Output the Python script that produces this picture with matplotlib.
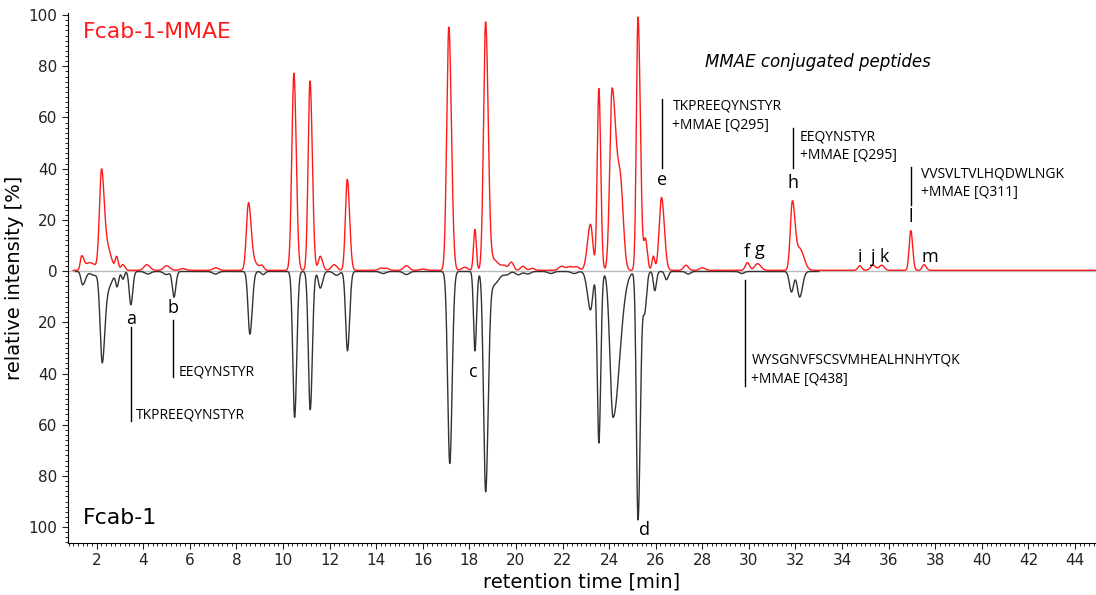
import numpy as np
import matplotlib
matplotlib.use("Agg")
import matplotlib.pyplot as plt
from matplotlib.ticker import MultipleLocator, FuncFormatter

# peak tables: retention time [min], height [%], left / right width [min]
mmae_rt = [1.36, 1.7, 2.21, 2.45, 2.86, 3.12, 4.15, 5.0, 5.7, 7.12, 8.52, 8.75, 9.1,
           10.47, 11.16, 11.6, 12.2, 12.76, 14.2, 14.45, 15.3, 16.0, 17.12, 17.8,
           18.24, 18.7, 19.05, 19.5, 19.8, 20.3, 20.7, 21.96, 22.3, 22.6,
           23.2, 23.56, 24.13, 24.5, 25.24, 25.56, 25.9, 26.25, 27.3, 28.0,
           29.94, 30.37, 31.87, 32.2, 34.76, 35.33, 35.7, 36.95, 37.52]
mmae_height = [5.5, 3, 38, 9, 5, 2.3, 2.2, 1.8, 0.7, 1.0, 26, 3, 1.6,
               77, 74, 5.5, 2.2, 35.5, 0.9, 0.8, 1.8, 0.5, 95, 1.2,
               16, 97, 4, 1.5, 3.2, 1.6, 0.8, 1.6, 1.4, 1.4,
               18, 71, 71, 28, 99, 12, 5.5, 28.5, 2, 1,
               3, 2.6, 27, 8, 1.8, 2.0, 2.0, 15.5, 2.2]
mmae_wl = [0.06, 0.15, 0.09, 0.12, 0.06, 0.07, 0.12, 0.12, 0.12, 0.12, 0.09, 0.12, 0.08,
           0.09, 0.08, 0.08, 0.12, 0.08, 0.1, 0.1, 0.12, 0.12, 0.09, 0.12,
           0.06, 0.09, 0.12, 0.1, 0.1, 0.1, 0.1, 0.12, 0.12, 0.12,
           0.13, 0.07, 0.1, 0.12, 0.07, 0.07, 0.06, 0.1, 0.1, 0.12,
           0.09, 0.12, 0.09, 0.12, 0.08, 0.11, 0.11, 0.07, 0.08]
mmae_wr = [0.1, 0.25, 0.11, 0.17, 0.07, 0.09, 0.14, 0.14, 0.12, 0.12, 0.11, 0.18, 0.08,
           0.1, 0.1, 0.1, 0.12, 0.1, 0.1, 0.1, 0.12, 0.12, 0.11, 0.12,
           0.06, 0.11, 0.22, 0.1, 0.1, 0.1, 0.1, 0.12, 0.12, 0.12,
           0.1, 0.08, 0.18, 0.12, 0.1, 0.08, 0.06, 0.12, 0.1, 0.12,
           0.09, 0.14, 0.12, 0.17, 0.08, 0.11, 0.11, 0.08, 0.09]

fcab_rt = [1.4, 1.9, 2.24, 2.5, 2.88, 3.13, 3.47, 4.2, 5.0, 5.32, 7.1, 8.58, 9.15,
           10.5, 11.17, 11.6, 12.3, 12.77, 14.3, 15.3, 17.16, 18.24, 18.7, 19.05,
           19.6, 20.1, 20.5, 21.5, 22.5, 23.2, 23.56, 24.17, 25.24, 25.53, 25.96,
           26.46, 27.4, 29.7, 31.83, 32.18]
fcab_height = [5.2, 1.5, 35, 6, 5.5, 3, 13, 1.0, 1.2, 10, 1, 24.5, 1.2,
               57, 54, 6.5, 1.5, 31, 0.8, 1.2, 75, 31, 86, 5,
               1.2, 1.3, 1, 0.8, 0.8, 15, 67, 57, 97, 15, 7.5,
               3.2, 1.0, 0.8, 8, 10]
fcab_wl = [0.07, 0.15, 0.09, 0.12, 0.06, 0.06, 0.07, 0.12, 0.12, 0.07, 0.12, 0.08, 0.08,
           0.08, 0.08, 0.08, 0.12, 0.08, 0.12, 0.12, 0.09, 0.06, 0.09, 0.12,
           0.12, 0.12, 0.12, 0.12, 0.12, 0.13, 0.07, 0.13, 0.07, 0.07, 0.06,
           0.07, 0.1, 0.1, 0.09, 0.1]
fcab_wr = [0.12, 0.15, 0.11, 0.17, 0.07, 0.06, 0.08, 0.12, 0.12, 0.08, 0.12, 0.1, 0.08,
           0.09, 0.09, 0.1, 0.12, 0.09, 0.12, 0.12, 0.1, 0.07, 0.11, 0.22,
           0.12, 0.12, 0.12, 0.12, 0.12, 0.1, 0.08, 0.28, 0.1, 0.08, 0.07,
           0.08, 0.1, 0.1, 0.09, 0.12]

peak_letters_top = ["e", "f", "g", "h", "i", "j", "k", "l", "m"]
peak_letters_bottom = ["a", "b", "c", "d"]


def trace(t, rt, height, wl, wr):
    """Sum of asymmetric gaussian peaks."""
    y = np.zeros_like(t)
    for c, h, a, b in zip(rt, height, wl, wr):
        s = np.where(t < c, a, b)
        y += h * np.exp(-0.5 * ((t - c) / s) ** 2)
    return y


t_red = np.linspace(1.0, 44.9, 6000)
t_blk = np.linspace(1.1, 33.0, 5000)
red = trace(t_red, mmae_rt, mmae_height, mmae_wl, mmae_wr) + 0.3
blk = trace(t_blk, fcab_rt, fcab_height, fcab_wl, fcab_wr) + 0.15

fig = plt.figure(figsize=(10.96, 5.95), dpi=100)
ax = fig.add_axes([0.062, 0.0874, 0.938, 0.8907])

ax.axhline(0, color="#bbbbbb", lw=1, zorder=1)
ax.plot(t_blk, -blk, color="#333333", lw=1, zorder=2)
ax.plot(t_red, red, color="#ff1a1a", lw=1, zorder=3)

ax.set_xlim(0.77, 44.9)
ax.set_ylim(-106.2, 100.8)
ax.spines["top"].set_visible(False)
ax.spines["right"].set_visible(False)
ax.xaxis.set_major_locator(MultipleLocator(2))
ax.xaxis.set_minor_locator(MultipleLocator(0.2))
ax.yaxis.set_major_locator(MultipleLocator(20))
ax.yaxis.set_minor_locator(MultipleLocator(2))
ax.yaxis.set_major_formatter(FuncFormatter(lambda v, p: f"{abs(v):.0f}"))
ax.tick_params(which="major", length=4, labelsize=11, colors="#222222")
ax.tick_params(which="minor", length=2)
ax.set_xlabel("retention time [min]", fontsize=14, labelpad=3)
ax.set_ylabel("relative intensity [%]", fontsize=14, labelpad=3)

ax.text(1.41, 93.2, "Fcab-1-MMAE", color="#ff1a1a", fontsize=15.8, va="center")
ax.text(1.41, -96.4, "Fcab-1", color="black", fontsize=15.8, va="center")
ax.text(28.11, 81.8, "MMAE conjugated peptides", fontsize=12, style="italic",
        va="center")

af = dict(family="Open Sans", fontsize=10, va="center")
lf = dict(family="Open Sans", fontsize=13, ha="center", va="center")

# peak letters
top_xy = [(26.29, 35.7), (29.91, 7.6), (30.47, 8.4), (31.89, 34.6), (34.76, 5.7),
          (35.32, 5.7), (35.79, 5.7), (36.95, 21.3), (37.76, 5.7)]
for s, (x, y) in zip(peak_letters_top, top_xy):
    ax.text(x, y, s, **lf)
bottom_xy = [(3.47, -18.9), (5.27, -14.3), (18.16, -39.6), (25.53, -101)]
for s, (x, y) in zip(peak_letters_bottom, bottom_xy):
    ax.text(x, y, s, **lf)

# leader lines and peptide names
ax.plot([3.47, 3.47], [-21.7, -58.4], color="black", lw=1)
ax.text(3.69, -56.4, "TKPREEQYNSTYR", **af)
ax.plot([5.27, 5.27], [-19, -41.2], color="black", lw=1)
ax.text(5.53, -39.3, "EEQYNSTYR", **af)
ax.plot([29.85, 29.85], [-3.3, -45], color="black", lw=1)
ax.text(30.11, -34.6, "WYSGNVFSCSVMHEALHNHYTQK", **af)
ax.text(30.11, -42.4, "+MMAE [Q438]", **af)
ax.plot([26.29, 26.29], [67.4, 40.4], color="black", lw=1)
ax.text(26.72, 64.4, "TKPREEQYNSTYR", **af)
ax.text(26.72, 56.8, "+MMAE [Q295]", **af)
ax.plot([31.89, 31.89], [56, 40.4], color="black", lw=1)
ax.text(32.18, 52.5, "EEQYNSTYR", **af)
ax.text(32.18, 45.1, "+MMAE [Q295]", **af)
ax.plot([36.95, 36.95], [40.8, 26], color="black", lw=1)
ax.text(37.37, 38.1, "VVSVLTVLHQDWLNGK", **af)
ax.text(37.37, 30.7, "+MMAE [Q311]", **af)

fig.savefig("out.png", dpi=100)
